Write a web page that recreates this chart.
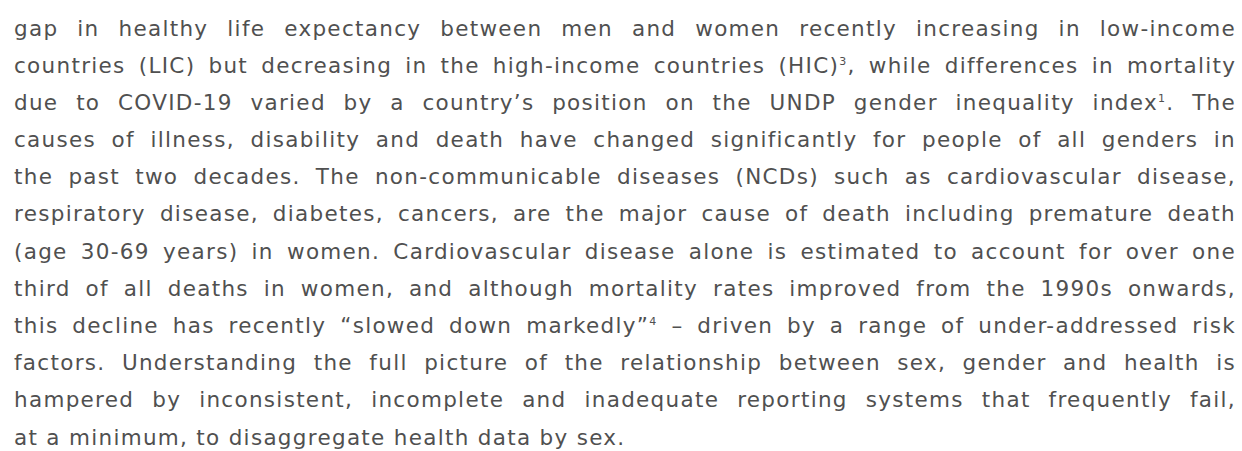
<!DOCTYPE html>
<html>
<head>
<meta charset="utf-8">
<script src="https://cdn.jsdelivr.net/npm/chart.js@4"></script>
<style>
  html, body { margin: 0; padding: 0; background: #ffffff; }
  body { width: 1242px; height: 451px; overflow: hidden; }
  #text {
    position: absolute;
    left: 14px;
    top: 9.5px;
    width: 1222px;
    font-family: "DejaVu Sans", sans-serif;
    font-size: 21.5px;
    line-height: 37.2px;
    color: #505050;
  }
  .line { white-space: nowrap; height: 37.2px; }
  sup { font-size: 11px; line-height: 0; vertical-align: 8px; }
</style>
</head>
<body>
<div id="text"></div>
<script>
// lines of the paragraph, broken as in the picture
var lines = [
  "gap in healthy life expectancy between men and women recently increasing in low-income",
  "countries (LIC) but decreasing in the high-income countries (HIC)<sup>3</sup>, while differences in mortality",
  "due to COVID-19 varied by a country’s position on the UNDP gender inequality index<sup>1</sup>. The",
  "causes of illness, disability and death have changed significantly for people of all genders in",
  "the past two decades. The non-communicable diseases (NCDs) such as cardiovascular disease,",
  "respiratory disease, diabetes, cancers, are the major cause of death including premature death",
  "(age 30-69 years) in women. Cardiovascular disease alone is estimated to account for over one",
  "third of all deaths in women, and although mortality rates improved from the 1990s onwards,",
  "this decline has recently “slowed down markedly”<sup>4</sup> – driven by a range of under-addressed risk",
  "factors. Understanding the full picture of the relationship between sex, gender and health is",
  "hampered by inconsistent, incomplete and inadequate reporting systems that frequently fail,",
  "at a minimum, to disaggregate health data by sex."
];

var box = document.getElementById("text");
var fullWidth = 1222;
var wideTrack = 1.3;   // letter-spacing wanted, px
var tightGap = -3;     // smallest word-spacing allowed, px

lines.forEach(function (txt, i) {
  var row = document.createElement("div");
  row.className = "line";
  var span = document.createElement("span");
  span.innerHTML = txt;
  row.appendChild(span);
  box.appendChild(row);

  var w0 = span.getBoundingClientRect().width;
  var n = span.textContent.length;
  var gaps = span.textContent.split(" ").length - 1;
  var track = wideTrack;
  var gap = 0;

  // justify every line but the last
  if (i < lines.length - 1) {
    gap = (fullWidth - w0 - n * track) / gaps;
    if (gap < tightGap) {
      gap = tightGap;
      track = (fullWidth - w0 - gaps * gap) / n;
    }
  }
  span.style.letterSpacing = track + "px";
  span.style.wordSpacing = gap + "px";
});
</script>
</body>
</html>
